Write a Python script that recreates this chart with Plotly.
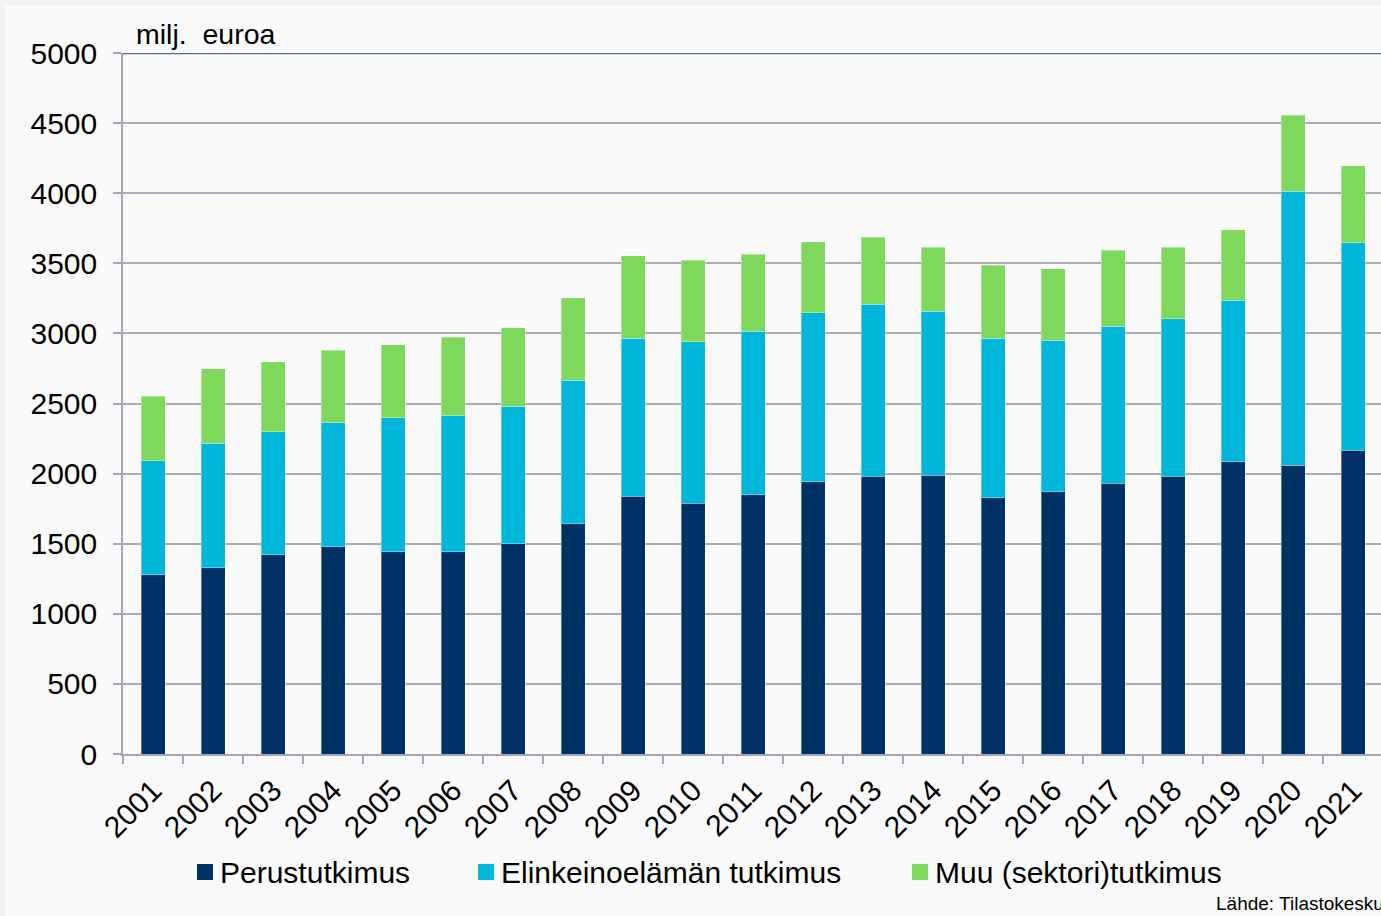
import plotly.graph_objects as go

years = [str(y) for y in range(2001, 2022)]
perus = [1278, 1328, 1420, 1479, 1441, 1441, 1498, 1643, 1840, 1787, 1849,
         1942, 1982, 1989, 1828, 1871, 1930, 1982, 2084, 2061, 2167]
elinkeino = [815, 889, 877, 889, 958, 970, 984, 1022, 1124, 1155, 1165,
             1204, 1226, 1169, 1136, 1081, 1121, 1124, 1152, 1953, 1480]
muu = [460, 531, 500, 512, 519, 560, 560, 590, 590, 581, 549,
       508, 478, 457, 522, 510, 543, 509, 503, 543, 549]
series_names = ["Perustutkimus", "Elinkeinoelämän tutkimus", "Muu (sektori)tutkimus"]
colors = ["#003266", "#00b6d9", "#7dd85c"]
y_ticks = list(range(0, 5001, 500))

W, H = 1381, 916
L, T, B = 123, 53, 162
pw = W - L
ph = H - T - B


def px(x):
    return (x - L) / pw


def py(y):
    return (H - B - y) / ph


FONT = "Liberation Sans, Arial, sans-serif"

fig = go.Figure()
for name, vals, c in zip(series_names, [perus, elinkeino, muu], colors):
    fig.add_trace(go.Bar(
        x=years, y=vals, name=name,
        marker=dict(color=c, line=dict(width=1, color="rgba(255,255,255,0.35)")),
        width=0.4, showlegend=False,
    ))

shapes = [
    dict(type="rect", xref="paper", yref="paper", x0=px(5), x1=px(W + 10),
         y0=py(H + 10), y1=py(5), fillcolor="#fafafa", line=dict(width=0),
         layer="below"),
    dict(type="line", xref="paper", yref="y", x0=0, x1=1, y0=5000, y1=5000,
         line=dict(color="#4a6d98", width=2.5), layer="above"),
]
annotations = [
    dict(text="milj.  euroa", xref="paper", yref="paper", x=px(134), y=py(34),
         xanchor="left", yanchor="middle", showarrow=False,
         font=dict(size=28.5, family=FONT)),
    dict(text="Lähde: Tilastokeskus", xref="paper", yref="paper", x=px(1214), y=py(903),
         xanchor="left", yanchor="middle", showarrow=False,
         font=dict(size=19, family=FONT)),
]

# legend drawn as keys + labels
legend_sq_x = [197, 478, 912]
legend_y = 872
for name, c, sx in zip(series_names, colors, legend_sq_x):
    shapes.append(dict(type="rect", xref="paper", yref="paper",
                       x0=px(sx), x1=px(sx + 16), y0=py(legend_y + 8), y1=py(legend_y - 8),
                       fillcolor=c, line=dict(width=0), layer="above"))
    annotations.append(dict(text=name, xref="paper", yref="paper", x=px(sx + 21),
                            y=py(legend_y), xanchor="left", yanchor="middle",
                            showarrow=False, font=dict(size=30, family=FONT)))

fig.update_layout(
    width=W, height=H,
    barmode="stack",
    margin=dict(l=L, r=0, t=T, b=B, pad=0),
    paper_bgcolor="#f2f2f2",
    plot_bgcolor="#fafafa",
    font=dict(family=FONT, color="#000000"),
    showlegend=False,
    xaxis=dict(
        type="category", range=[-0.5, -0.5 + pw / 60.0],
        tickson="boundaries", ticks="outside", ticklen=8, tickwidth=1.5,
        tickcolor="#a3a6b4", showline=True, linecolor="#a3a6b4", linewidth=1.5,
        tickangle=-45, tickfont=dict(size=30, family=FONT), ticklabelstandoff=5,
        showgrid=False, zeroline=False,
    ),
    yaxis=dict(
        range=[0, 5000], tickvals=y_ticks, ticks="outside", ticklen=8, tickwidth=1.5,
        tickcolor="#a3a6b4", showline=True, linecolor="#a3a6b4", linewidth=1.5,
        gridcolor="#a9acba", gridwidth=1.5, zeroline=False,
        tickfont=dict(size=30, family=FONT), ticklabelstandoff=10,
    ),
    shapes=shapes,
    annotations=annotations,
)

fig.write_html("out.html", config={"displayModeBar": False},
               post_script="document.body.style.margin='0';document.body.style.overflow='hidden';")
